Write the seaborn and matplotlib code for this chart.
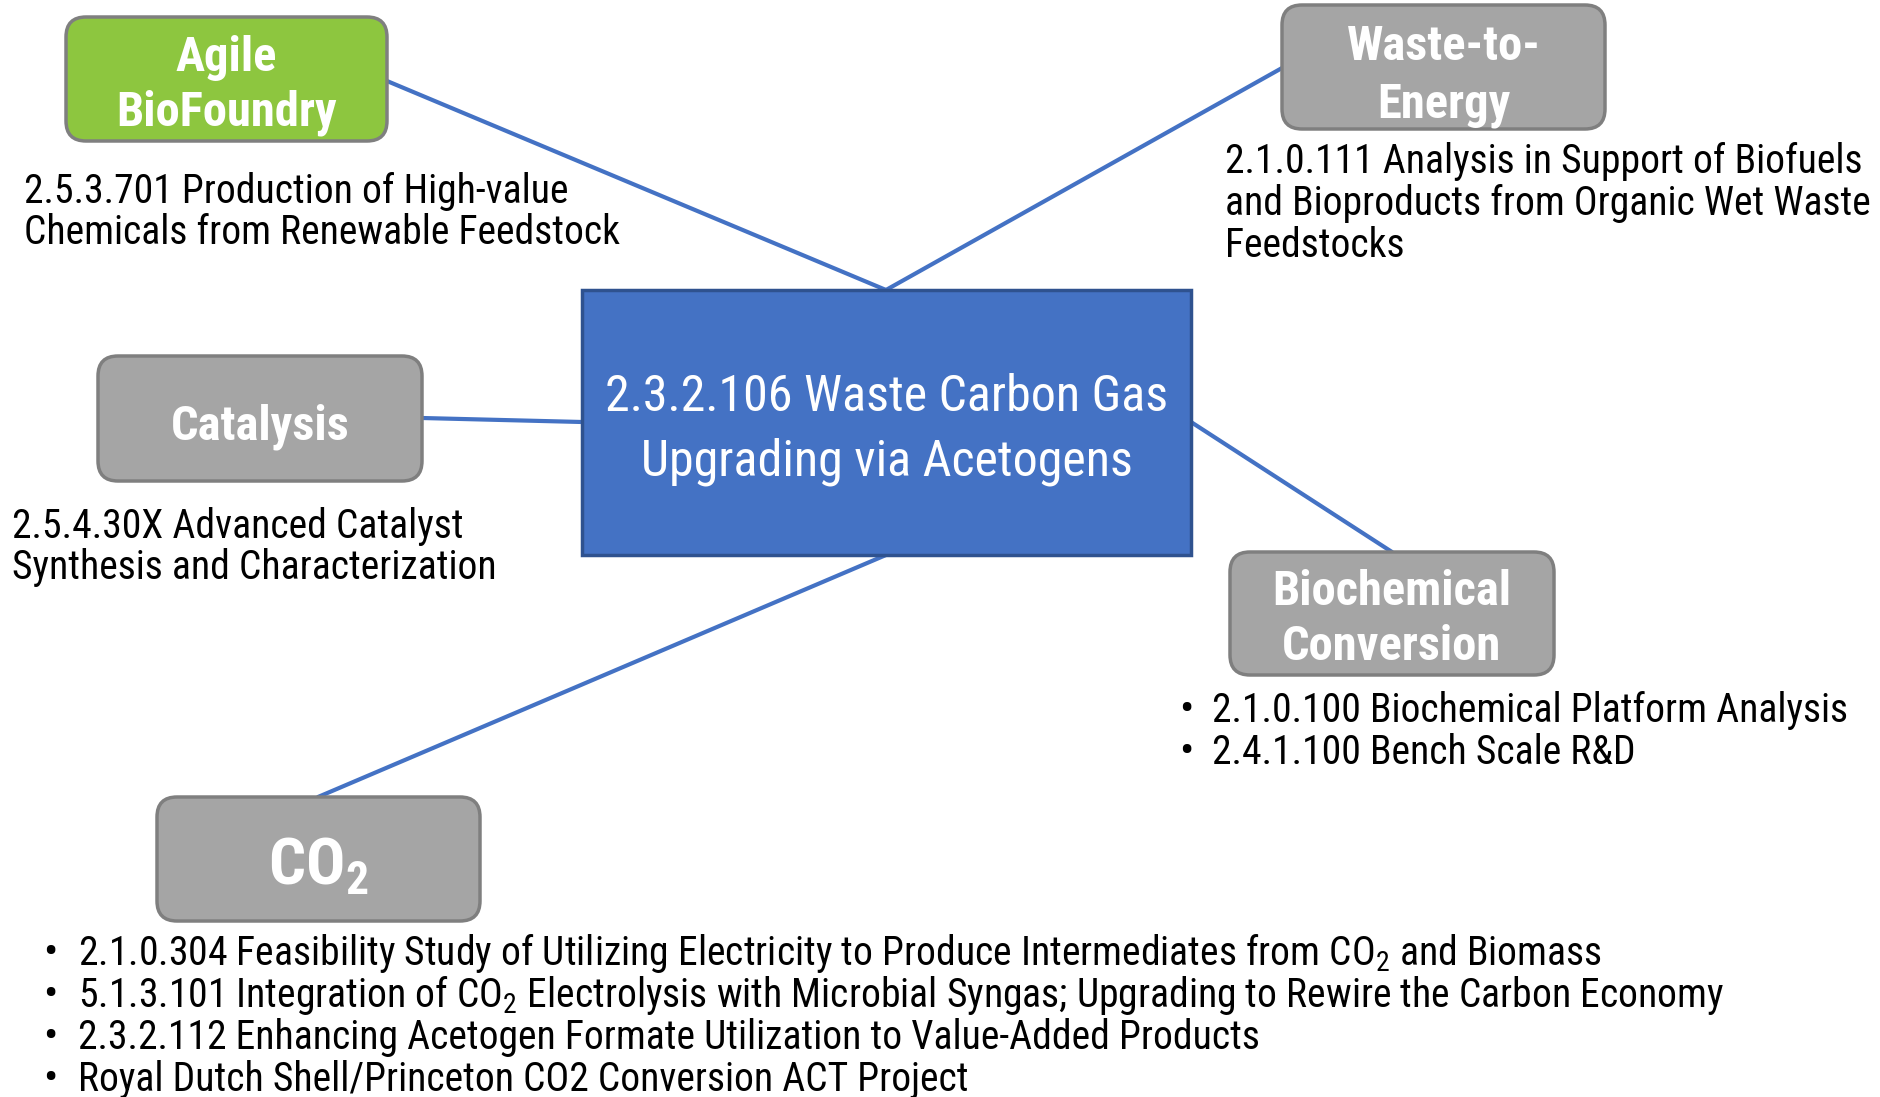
import matplotlib
matplotlib.use("Agg")
import matplotlib.pyplot as plt
import pandas as pd
import seaborn as sns
from matplotlib.patches import FancyBboxPatch

# --- content ---
node_names = ["Agile\nBioFoundry", "Waste-to-\nEnergy", "Catalysis", "Biochemical\nConversion",
              "$\\mathbf{CO}_\\mathbf{2}$"]
node_colors = ["#8DC63F", "#A5A5A5", "#A5A5A5", "#A5A5A5", "#A5A5A5"]
center_label = "2.3.2.106 Waste Carbon Gas\nUpgrading via Acetogens"
agile_desc = ["2.5.3.701 Production of High-value", "Chemicals from Renewable Feedstock"]
waste_desc = ["2.1.0.111 Analysis in Support of Biofuels",
              "and Bioproducts from Organic Wet Waste", "Feedstocks"]
catalysis_desc = ["2.5.4.30X Advanced Catalyst", "Synthesis and Characterization"]
biochem_bullets = ["2.1.0.100 Biochemical Platform Analysis", "2.4.1.100 Bench Scale R&D"]
co2_bullets = [
    "2.1.0.304 Feasibility Study of Utilizing Electricity to Produce Intermediates from CO$_\\mathrm{2}$ and Biomass",
    "5.1.3.101 Integration of CO$_\\mathrm{2}$ Electrolysis with Microbial Syngas; Upgrading to Rewire the Carbon Economy",
    "2.3.2.112 Enhancing Acetogen Formate Utilization to Value-Added Products",
    "Royal Dutch Shell/Princeton CO2 Conversion ACT Project",
]

# --- layout (pixel coords, y down) ---
node_boxes = [(66, 17, 321, 124), (1282, 5, 323, 124), (98, 356, 324, 125),
              (1230, 552, 324, 123), (157, 797, 323, 124)]
node_baselines = [[71, 126], [60, 117], [439], [605, 660], [884]]
center_box = (582, 290, 609, 265)
center_baselines = [411, 475]
edge_segments = [[(387, 81), (886, 290)], [(1282, 68), (886, 290)],
                 [(422, 418), (582, 422)], [(1191, 422), (1392, 552)],
                 [(886, 555), (318, 797)]]

sns.set_theme(style="white")
FONT = "Roboto Condensed"
plt.rcParams["font.family"] = [FONT, "DejaVu Sans"]
plt.rcParams["mathtext.fontset"] = "custom"
plt.rcParams["mathtext.rm"] = FONT
plt.rcParams["mathtext.bf"] = FONT + ":bold"

fig = plt.figure(figsize=(18.8, 10.97), dpi=100)
ax = fig.add_axes([0, 0, 1, 1])

# connectors
rows = []
for i, seg in enumerate(edge_segments):
    for x, y in seg:
        rows.append({"edge": i, "x": x, "y": y})
edges_df = pd.DataFrame(rows)
sns.lineplot(data=edges_df, x="x", y="y", units="edge", estimator=None,
             sort=False, color="#4472C4", linewidth=3, ax=ax, zorder=1)
ax.set_xlim(0, 1880)
ax.set_ylim(1097, 0)
ax.axis("off")

# central box
cx, cy, cw, ch = center_box
ax.add_patch(plt.Rectangle((cx, cy), cw, ch, facecolor="#4472C4",
                           edgecolor="#2F528F", linewidth=2.5, zorder=2))
for line, yb in zip(center_label.split("\n"), center_baselines):
    ax.text(cx + cw / 2, yb, line, color="white", fontsize=36,
            ha="center", va="baseline", zorder=3)

# category boxes
for name, color, (bx, by, bw, bh), ybs in zip(node_names, node_colors, node_boxes, node_baselines):
    ax.add_patch(FancyBboxPatch((bx, by), bw, bh,
                                boxstyle="round,pad=0,rounding_size=20",
                                facecolor=color, edgecolor="#7F7F7F",
                                linewidth=2.5, zorder=2))
    size = 47 if "CO" in name else 35
    for line, yb in zip(name.split("\n"), ybs):
        ax.text(bx + bw / 2, yb, line, color="white", fontsize=size,
                fontweight="bold", ha="center", va="baseline", zorder=3)

TXT = 28.5


def write_lines(lines, x, y0, step=42, bullet_x=None):
    for k, line in enumerate(lines):
        y = y0 + k * step
        if bullet_x is not None:
            ax.text(bullet_x, y, "\u2022", fontsize=TXT + 2, ha="center", va="baseline",
                    color="black")
        ax.text(x, y, line, fontsize=TXT, ha="left", va="baseline", color="black")


write_lines(agile_desc, 24, 203, step=41)
write_lines(waste_desc, 1225, 173, step=42)
write_lines(catalysis_desc, 12, 538, step=41)
write_lines(biochem_bullets, 1212, 722, step=42, bullet_x=1186)
write_lines(co2_bullets, 78, 965, step=42, bullet_x=50)

fig.savefig("out.png", dpi=100)
